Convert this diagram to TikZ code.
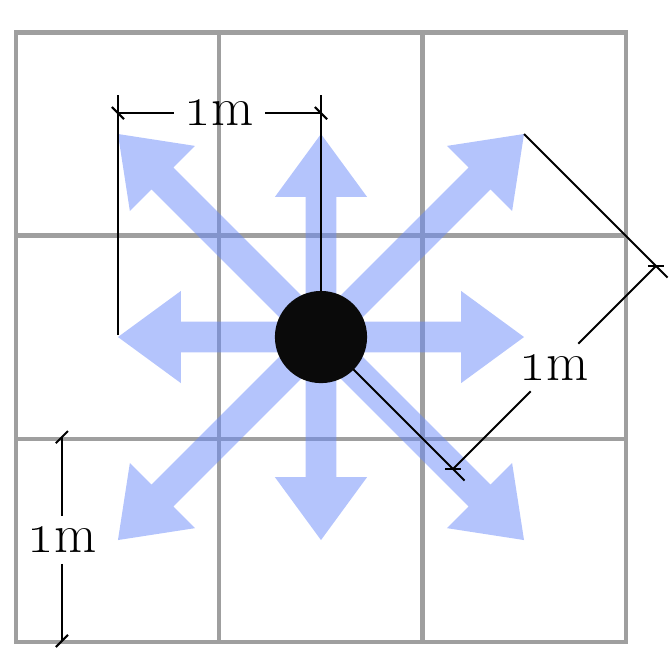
\documentclass[tikz,border=0pt]{standalone}
\begin{document}
\begin{tikzpicture}[x=3cm,y=3cm,
  gridline/.style={draw=gray!75, line width=1.7pt},
  dimline/.style={draw=black, line width=0.85pt},
  movearrow/.style={fill={rgb,255:red,105;green,138;blue,250}, fill opacity=0.5},
  dimlabel/.style={inner sep=4.5pt, font=\fontsize{23}{28}\selectfont},
  robot/.style={circle, fill=black!96, minimum size=1.362cm, inner sep=0pt}]
\useasboundingbox (-1.581,-1.640) rectangle (1.719,1.660);
%
% floor grid
\draw[gridline] (-1.5,-1.5) rectangle (1.5,1.5);
\foreach \g in {-0.5,0.5} {
  \draw[gridline] (\g,-1.5) -- (\g,1.5);
  \draw[gridline] (-1.5,\g) -- (1.5,\g);
}
%
% moves
\foreach \a/\l in {0/1,90/1,180/1,270/1,45/1.4142,135/1.4142,225/1.4142,315/1.4142}
  \fill[movearrow, rotate=\a]
       (0,-0.076) -- ({\l-0.31},-0.076) -- ({\l-0.31},-0.227) -- (\l,0)
    -- ({\l-0.31},0.227) -- ({\l-0.31},0.076) -- (0,0.076) -- cycle;
%
% top dimension
\coordinate (t1) at (-1,1.103);
\coordinate (t2) at (0,1.103);
\node[dimlabel] (ltop) at (-0.5,1.103) {\oldstylenums{1}m};
\draw[dimline] (-1,0.01) -- (-1,1.19);
\draw[dimline] (0,0) -- (0,1.19);
\draw[dimline] (t1) -- (ltop);
\draw[dimline] (ltop) -- (t2);
\draw[dimline] (t1) ++(-0.03,0.03) -- ++(0.06,-0.06);
\draw[dimline] (t2) ++(-0.03,0.03) -- ++(0.06,-0.06);
%
% left dimension
\coordinate (s1) at (-1.276,-0.493);
\coordinate (s2) at (-1.276,-1.497);
\node[dimlabel] (lside) at (-1.276,-1.0) {\oldstylenums{1}m};
\draw[dimline] (s1) -- (lside);
\draw[dimline] (lside) -- (s2);
\draw[dimline] (s1) ++(-0.03,-0.03) -- ++(0.06,0.06);
\draw[dimline] (s2) ++(-0.03,-0.03) -- ++(0.06,0.06);
%
% diagonal dimension
\coordinate (d1) at (0.65,-0.65);
\coordinate (d2) at (1.65,0.35);
\node[dimlabel] (ldiag) at (1.15,-0.15) {\oldstylenums{1}m};
\draw[dimline] (1,1) -- (1.707,0.293);
\draw[dimline] (0,0) -- (0.707,-0.707);
\draw[dimline] (d1) -- (ldiag);
\draw[dimline] (ldiag) -- (d2);
\draw[dimline] (d1) ++(-0.04,0) -- ++(0.08,0);
\draw[dimline] (d2) ++(-0.04,0) -- ++(0.08,0);
%
\node[robot] (bot) at (0,0) {};
\end{tikzpicture}
\end{document}
